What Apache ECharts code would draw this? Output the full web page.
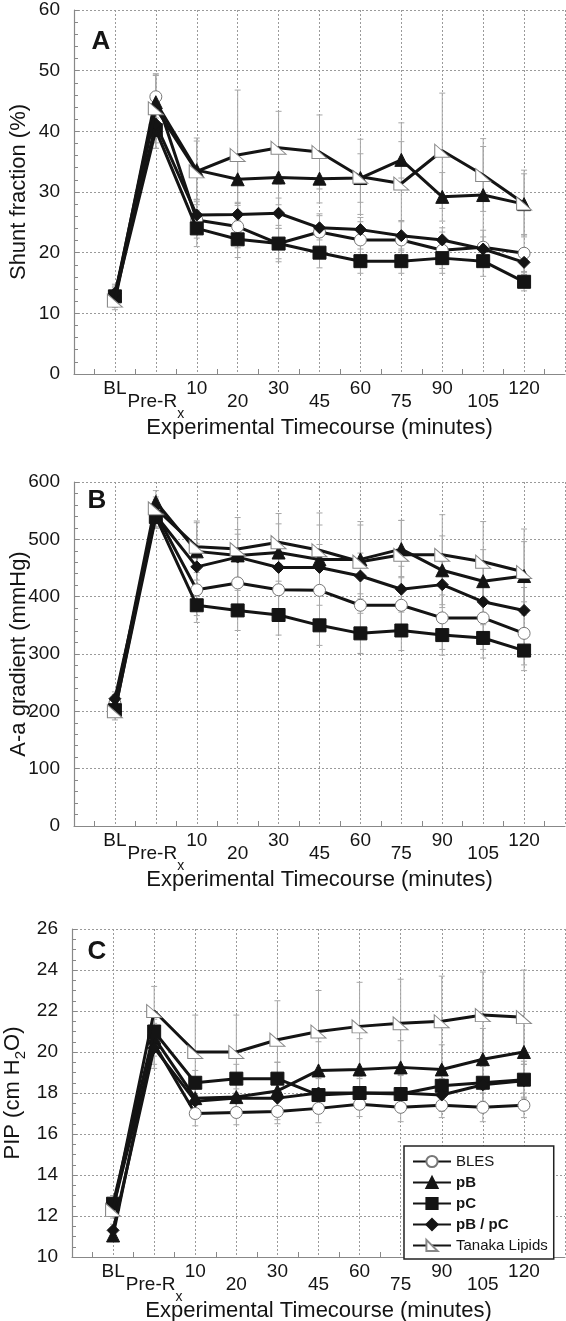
<!DOCTYPE html>
<html><head><meta charset="utf-8">
<script src="https://cdn.jsdelivr.net/npm/echarts@6/dist/echarts.min.js"></script>
<style>html,body{margin:0;padding:0;background:#fff;overflow:hidden}#c{width:566px;height:1321px}</style>
</head><body><div id="c"></div>
<script>
// Category labels (x positions 0..10)
const categories = ['BL', 'Pre-Rx', '10', '20', '30', '45', '60', '75', '90', '105', '120'];
const seriesNames = ['BLES', 'pB', 'pC', 'pB / pC', 'Tanaka Lipids'];

// Panel A: Shunt fraction (%)
const shuntBLES    = [12.5, 45.7, 25.4, 24.3, 21.5, 23.4, 22.1, 22.1, 20.4, 20.9, 19.9];
const shuntPB      = [13.0, 44.8, 33.6, 32.1, 32.4, 32.2, 32.3, 35.3, 29.2, 29.5, 28.0];
const shuntPC      = [12.8, 40.2, 24.0, 22.2, 21.5, 20.0, 18.6, 18.6, 19.1, 18.6, 15.2];
const shuntPBPC    = [13.3, 41.2, 26.2, 26.3, 26.5, 24.1, 23.8, 22.8, 22.1, 20.6, 18.4];
const shuntTanaka  = [12.1, 43.8, 33.4, 36.1, 37.3, 36.6, 32.5, 31.4, 36.8, 32.8, 28.1];
const shuntBLESErr   = [1.5, 3.5, 3.0, 3.5, 3.0, 3.0, 3.0, 3.0, 3.0, 2.8, 3.0];
const shuntPBErr     = [1.5, 4.5, 4.8, 4.0, 4.5, 4.0, 4.0, 3.0, 4.0, 8.0, 5.0];
const shuntPCErr     = [1.5, 3.0, 3.0, 3.0, 2.5, 2.5, 2.0, 2.0, 2.5, 2.5, 1.5];
const shuntPBPCErr   = [1.5, 4.0, 2.5, 2.0, 2.5, 2.0, 2.0, 2.5, 2.0, 2.0, 2.0];
const shuntTanakaErr = [1.5, 5.7, 5.5, 10.7, 6.0, 6.1, 6.2, 10.0, 9.5, 6.0, 5.5];

// Panel B: A-a gradient (mmHg)
const aaBLES    = [214, 545, 412, 424, 412, 411, 385, 385, 363, 363, 336];
const aaPB      = [210, 565, 479, 472, 477, 465, 465, 483, 446, 427, 436];
const aaPC      = [202, 539, 385, 376, 368, 350, 336, 341, 333, 328, 306];
const aaPBPC    = [222, 542, 452, 469, 451, 451, 436, 413, 421, 391, 376];
const aaTanaka  = [200, 554, 487, 483, 495, 481, 461, 473, 473, 461, 443];
const aaBLESErr   = [15, 25, 45, 45, 45, 50, 50, 50, 55, 55, 55];
const aaPBErr     = [15, 20, 50, 45, 50, 60, 60, 50, 60, 55, 60];
const aaPCErr     = [10, 20, 30, 35, 35, 35, 35, 35, 35, 35, 35];
const aaPBPCErr   = [12, 20, 40, 40, 40, 40, 40, 40, 40, 40, 40];
const aaTanakaErr = [15, 20, 45, 55, 50, 65, 70, 60, 70, 70, 75];

// Panel C: PIP (cm H2O)
const pipBLES    = [12.4, 20.4, 17.0, 17.05, 17.1, 17.25, 17.45, 17.3, 17.4, 17.3, 17.4];
const pipPB      = [11.05, 20.7, 17.75, 17.8, 18.1, 19.1, 19.15, 19.25, 19.15, 19.65, 20.0];
const pipPC      = [12.6, 21.0, 18.5, 18.7, 18.7, 17.9, 18.0, 17.95, 18.35, 18.5, 18.65];
const pipPBPC    = [11.3, 20.2, 17.6, 17.75, 17.75, 18.0, 18.0, 18.0, 17.9, 18.4, 18.6];
const pipTanaka  = [12.3, 22.0, 20.0, 20.0, 20.6, 21.0, 21.25, 21.4, 21.5, 21.8, 21.7];
const pipBLESErr   = [0.5, 1.0, 0.6, 0.6, 0.6, 0.7, 0.6, 0.7, 0.6, 0.7, 0.6];
const pipPBErr     = [0.3, 0.9, 0.9, 1.0, 1.4, 1.4, 1.5, 1.3, 1.2, 1.5, 1.5];
const pipPCErr     = [0.4, 0.8, 0.6, 0.7, 0.8, 0.8, 0.7, 0.9, 0.8, 0.9, 0.9];
const pipPBPCErr   = [0.3, 1.0, 0.7, 0.7, 0.8, 0.8, 0.8, 0.9, 0.8, 0.9, 0.8];
const pipTanakaErr = [0.3, 1.2, 1.8, 1.8, 1.9, 2.0, 2.15, 2.15, 2.2, 2.1, 2.3];

const FONT = 'Liberation Sans, Arial, sans-serif';
const INK = '#141414';
const symbols = ['circle', 'triangle', 'rect', 'diamond', 'path://M0,0L14,13L0,13Z'];
const symbolSizes = [12, 13, 13, 12, [15, 13]];
const fills = ['#fff', INK, INK, INK, '#fff'];
const borders = ['#777', INK, INK, INK, '#888'];

const panels = [
  { vals: [shuntBLES, shuntPB, shuntPC, shuntPBPC, shuntTanaka],
    errs: [shuntBLESErr, shuntPBErr, shuntPCErr, shuntPBPCErr, shuntTanakaErr] },
  { vals: [aaBLES, aaPB, aaPC, aaPBPC, aaTanaka],
    errs: [aaBLESErr, aaPBErr, aaPCErr, aaPBPCErr, aaTanakaErr] },
  { vals: [pipBLES, pipPB, pipPC, pipPBPC, pipTanaka],
    errs: [pipBLESErr, pipPBErr, pipPCErr, pipPBPCErr, pipTanakaErr] }
];

const grids = [
  { left: 74, top: 10, width: 491, height: 364, outerBoundsMode: 'none', containLabel: false },
  { left: 74, top: 482, width: 491, height: 344, outerBoundsMode: 'none', containLabel: false },
  { left: 72, top: 929, width: 493, height: 328, outerBoundsMode: 'none', containLabel: false }
];

const gridLine = { show: true, lineStyle: { color: '#9a9a9a', type: [2, 2], width: 1 } };
const axisLine = { show: true, onZero: false, lineStyle: { color: '#888', width: 1.2 } };

const xAxes = grids.map((g, i) => ({
  type: 'value', gridIndex: i, min: -1, max: 11, interval: 1,
  axisLine: axisLine,
  axisTick: { show: true, inside: true, length: 0 },
  minorTick: { show: true, splitNumber: 2, length: 5, lineStyle: { color: '#888' } },
  splitLine: gridLine,
  axisLabel: {
    margin: 8,
    formatter: function (v) {
      const k = Math.round(v);
      if (k < 0 || k > 10) return '';
      if (k === 1) return '{n| }\n{n|Pre-R}{s|x}';
      if (k % 2 === 1) return '{n| }\n{n|' + categories[k] + '}';
      return '{n|' + categories[k] + '}';
    },
    rich: {
      n: { fontSize: 19, lineHeight: 13, color: INK, fontFamily: FONT },
      s: { fontSize: 14, lineHeight: 13, color: INK, fontFamily: FONT, padding: [26, 0, 0, 0] }
    }
  },
  name: 'Experimental Timecourse (minutes)',
  nameLocation: 'middle', nameGap: 43, nameMoveOverlap: false,
  nameTextStyle: { fontSize: 22, color: INK, fontFamily: FONT }
}));

const yConf = [
  { min: 0, max: 60, interval: 10, minor: 5, name: 'Shunt fraction (%)' },
  { min: 0, max: 600, interval: 100, minor: 5, name: 'A-a gradient (mmHg)' },
  { min: 10, max: 26, interval: 2, minor: 4, name: '{t|PIP (cm H}{s|2}{t|O)}' }
];
const yAxes = yConf.map((c, i) => ({
  type: 'value', gridIndex: i, min: c.min, max: c.max, interval: c.interval,
  axisLine: axisLine,
  axisTick: { show: true, inside: true, length: 5, lineStyle: { color: '#888' } },
  minorTick: { show: true, splitNumber: c.minor, length: 4, lineStyle: { color: '#888' } },
  splitLine: gridLine,
  axisLabel: { margin: 14, fontSize: 19, color: INK, fontFamily: FONT },
  name: c.name, nameLocation: 'middle', nameGap: 44, nameRotate: 90, nameMoveOverlap: false,
  nameTextStyle: {
    fontSize: 22, color: INK, fontFamily: FONT,
    rich: {
      t: { fontSize: 22, color: INK, fontFamily: FONT },
      s: { fontSize: 15, color: INK, fontFamily: FONT, padding: [16, 0, 0, 0] }
    }
  }
}));

const series = [];
panels.forEach((p, gi) => {
  const errData = [];
  p.vals.forEach((arr, si) => {
    arr.forEach((v, k) => errData.push([k, v - p.errs[si][k], v + p.errs[si][k]]));
  });
  series.push({
    type: 'custom', xAxisIndex: gi, yAxisIndex: gi, z: 1, silent: true,
    data: errData, encode: { x: 0, y: [1, 2] }, clip: true,
    renderItem: function (params, api) {
      const x = api.value(0);
      const a = api.coord([x, api.value(1)]);
      const b = api.coord([x, api.value(2)]);
      const w = 3;
      const st = { stroke: '#a8a8a8', lineWidth: 1 };
      return { type: 'group', children: [
        { type: 'line', shape: { x1: a[0], y1: a[1], x2: b[0], y2: b[1] }, style: st },
        { type: 'line', shape: { x1: a[0] - w, y1: a[1], x2: a[0] + w, y2: a[1] }, style: st },
        { type: 'line', shape: { x1: b[0] - w, y1: b[1], x2: b[0] + w, y2: b[1] }, style: st }
      ] };
    }
  });
  p.vals.forEach((arr, si) => {
    series.push({
      type: 'line', name: seriesNames[si], xAxisIndex: gi, yAxisIndex: gi, z: 2 + si,
      data: arr.map((v, k) => [k, v]),
      symbol: symbols[si], symbolSize: symbolSizes[si], showAllSymbol: true,
      lineStyle: { color: INK, width: 3 },
      itemStyle: { color: fills[si], borderColor: borders[si], borderWidth: 1 },
      emphasis: { disabled: true }, animation: false
    });
  });
});

const chart = echarts.init(document.getElementById('c'), null, { renderer: 'canvas' });
chart.setOption({
  backgroundColor: '#fff',
  animation: false,
  grid: grids,
  xAxis: xAxes,
  yAxis: yAxes,
  legend: {
    data: seriesNames,
    orient: 'vertical', left: 404, top: 1146,
    itemWidth: 38, itemHeight: 14, itemGap: 6,
    padding: [8, 6, 6, 8],
    backgroundColor: '#fff', borderColor: '#222', borderWidth: 1.5, borderRadius: 0,
    selectedMode: false,
    formatter: function (name) {
      return (name === 'BLES' || name === 'Tanaka Lipids') ? '{n|' + name + '}' : '{b|' + name + '}';
    },
    textStyle: {
      fontSize: 15, color: INK, fontFamily: FONT,
      rich: {
        n: { fontSize: 15, color: INK, fontFamily: FONT },
        b: { fontSize: 15, color: INK, fontFamily: FONT, fontWeight: 'bold' }
      }
    }
  },
  graphic: [
    { type: 'text', x: 101, y: 42, style: { text: 'A', font: 'bold 26px Liberation Sans, Arial', fill: INK, textAlign: 'center', textVerticalAlign: 'middle' } },
    { type: 'text', x: 97, y: 501, style: { text: 'B', font: 'bold 26px Liberation Sans, Arial', fill: INK, textAlign: 'center', textVerticalAlign: 'middle' } },
    { type: 'text', x: 97, y: 952, style: { text: 'C', font: 'bold 26px Liberation Sans, Arial', fill: INK, textAlign: 'center', textVerticalAlign: 'middle' } }
  ],
  series: series
});
</script></body></html>
